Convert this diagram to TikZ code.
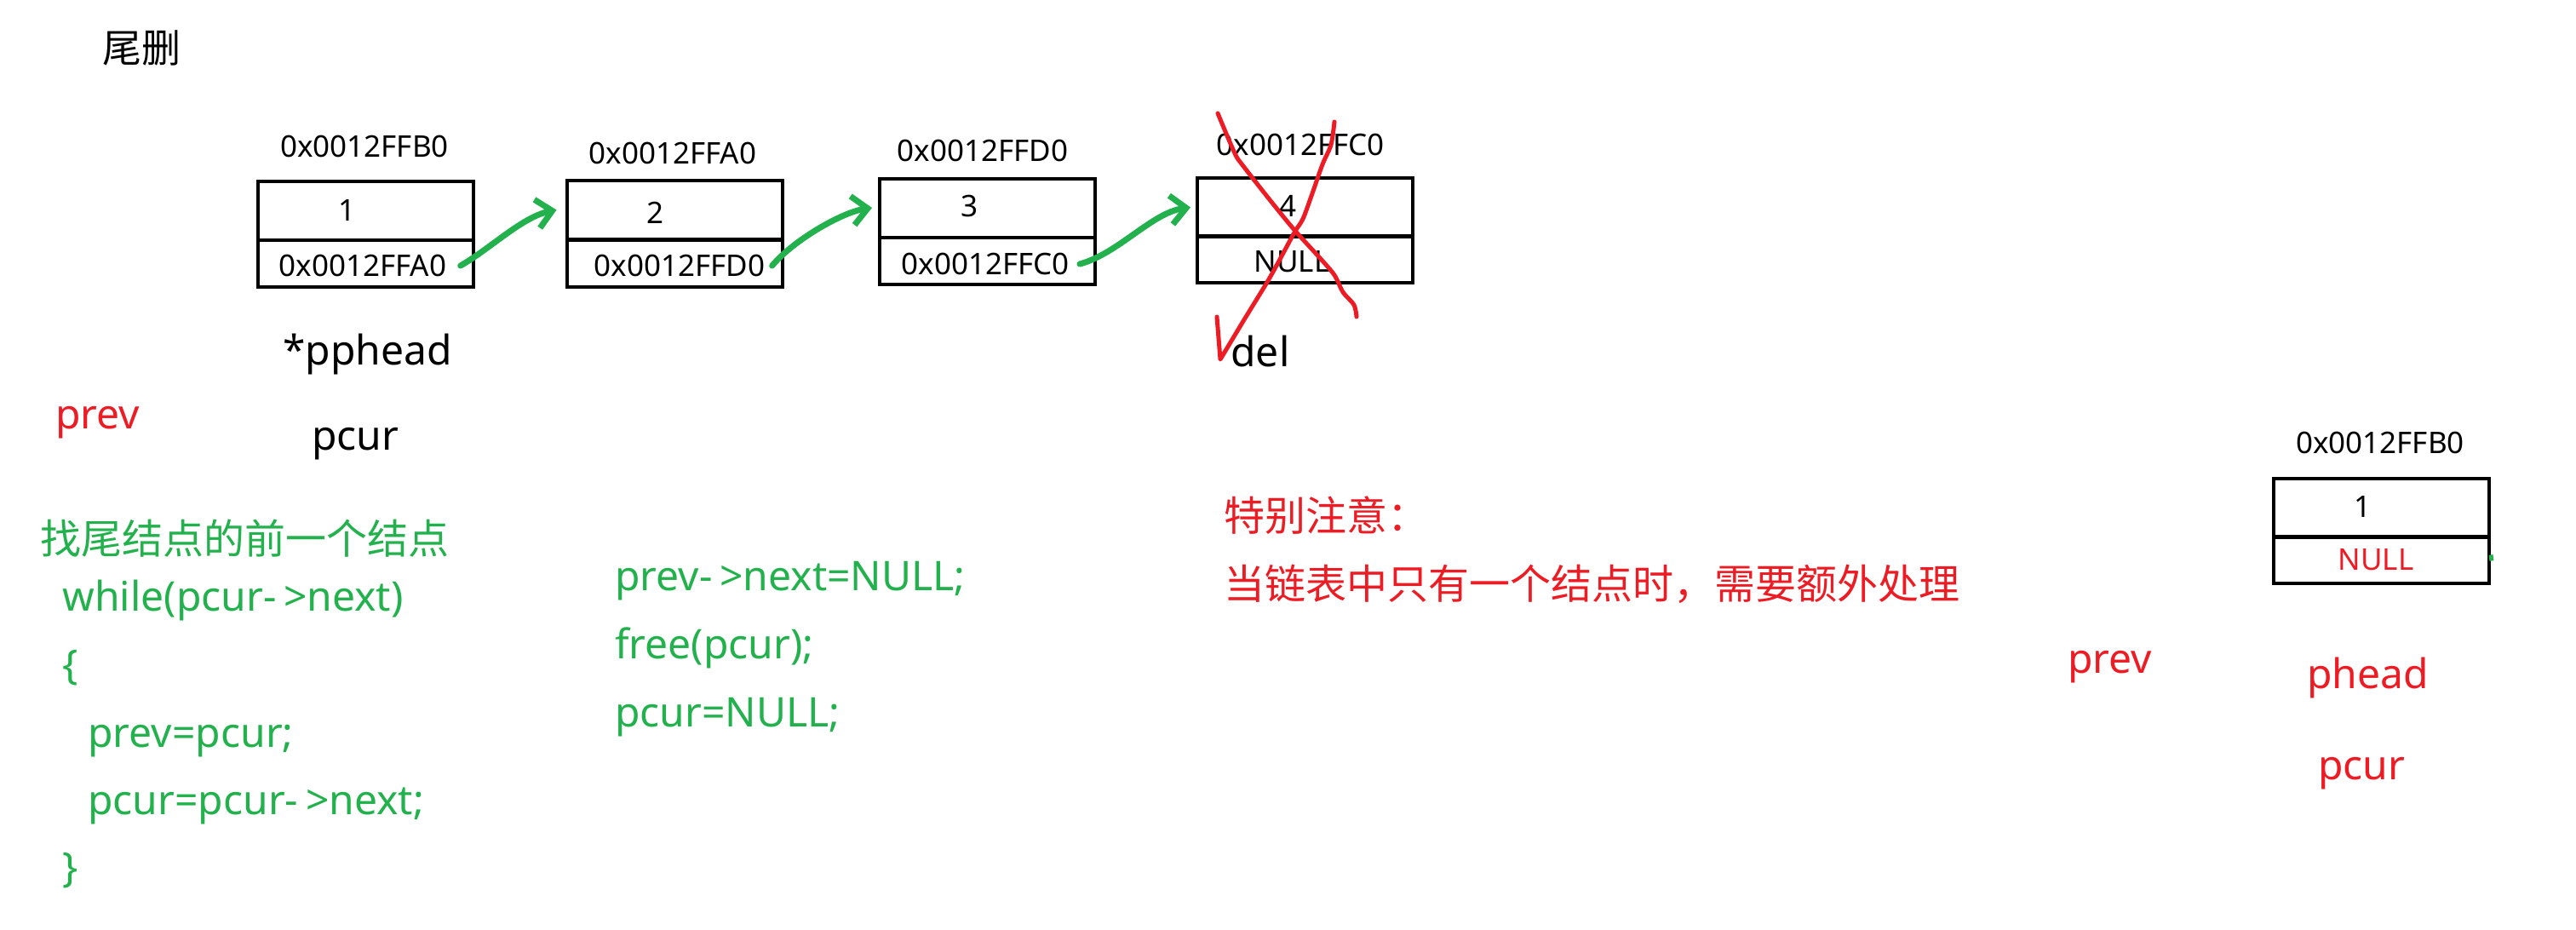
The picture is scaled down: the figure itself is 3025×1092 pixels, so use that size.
\documentclass[tikz,border=0pt]{standalone}
\usepackage{fontspec}
\setmainfont{Noto Sans}
\newfontfamily\cjk{Noto Sans CJK SC}
\usetikzlibrary{arrows.meta}
\definecolor{pg}{HTML}{22B14C}
\definecolor{pr}{HTML}{ED1C24}
\newcommand\arw{-\kern0.18em>}
\begin{document}
\begin{tikzpicture}[x=0.5pt,y=-0.5pt,
  celltop/.style={draw=black, line width=2pt, minimum width=126.5pt, minimum height=34.5pt, inner sep=0pt},
  cellbot/.style={draw=black, line width=2pt, minimum width=126.5pt, minimum height=27.5pt, inner sep=0pt},
  small/.style={font=\fontsize{17.5pt}{20pt}\selectfont, inner sep=0pt},
  txt/.style={inner sep=0pt, anchor=base west, font=\fontsize{24pt}{28pt}\selectfont},
  cjktxt/.style={inner sep=0pt, anchor=base west, font=\cjk\fontsize{24pt}{28pt}\selectfont},
  link/.style={draw=pg, line width=3.5pt, line cap=round, line join=round, -{Straight Barb[length=9pt,width=17pt]}},
  cross/.style={draw=pr, line width=2.5pt, line cap=round, line join=round}]
\useasboundingbox (0,0) rectangle (3025,1092);

% title
\node[cjktxt, font=\cjk\fontsize{23pt}{28pt}\selectfont] (title) at (120,73) {尾删};

% boxes
\node[celltop] (b1t) at (429,247.5) {};
\node[cellbot] (b1b) at (429,309.5) {};
\node[celltop] (b2t) at (792,246.5) {};
\node[cellbot] (b2b) at (792,309) {};
\node[celltop] (b3t) at (1159.5,244) {};
\node[cellbot] (b3b) at (1159.5,306) {};
\node[celltop] (b4t) at (1532.5,243.5) {};
\node[cellbot] (b4b) at (1532.5,304.5) {};
\node[celltop] (b5t) at (2796.5,596.5) {};
\node[cellbot] (b5b) at (2796.5,657.5) {};

% address labels
\node[small] (l1) at (428,172) {0x0012FFB0};
\node[small] (l2) at (790,180) {0x0012FFA0};
\node[small] (l3) at (1154,177) {0x0012FFD0};
\node[small] (l4) at (1527,170) {0x0012FFC0};
\node[small] (l5) at (2795,520) {0x0012FFB0};

% cell contents
\node[small] (d1) at (408,247) {1};
\node[small] (a1) at (426,312) {0x0012FFA0};
\node[small] (d2) at (770,250) {2};
\node[small] (a2) at (798,312) {0x0012FFD0};
\node[small] (d3) at (1138,242) {3};
\node[small] (a3) at (1157,310) {0x0012FFC0};
\node[small] (d4) at (1512,242) {4};
\node[small] (a4) at (1517,307) {NULL};
\node[small] (d5) at (2774,595) {1};
\node[small, text=pr] (a5) at (2790,657) {NULL};

% links
\draw[link] ([xshift=8pt]a1.east) .. controls +(35,-20) and +(-40,8) .. ([xshift=-5pt]b2t.west);
\draw[link] ([xshift=4pt]a2.east) .. controls +(25,-30) and +(-35,5) .. ([xshift=-3.5pt]b3t.west);
\draw[link] ([xshift=6pt]a3.east) .. controls +(45,-12) and +(-45,6) .. ([xshift=-3pt]b4t.west);
\draw[draw=pg, line width=2.5pt] ([yshift=3pt]b5b.east) -- ++(1,7);

% red cross over node 4
\draw[cross] plot[smooth] coordinates {(1430,133) (1450,180) (1460,195) (1493,237) (1520,270) (1550,303) (1567,323) (1577,343) (1590,358) (1593,372)};
\draw[cross] plot[smooth] coordinates {(1567,143) (1563,170) (1553,193) (1540,230) (1530,257) (1520,273) (1500,310) (1487,333) (1460,377) (1433,422)} -- (1429,372);

% pointer names
\node[txt] (pph) at (332,428) {*pphead};
\node[txt] (del) at (1445,430) {del};
\node[txt, text=pr] (prevL) at (65,503) {prev};
\node[txt] (pcurL) at (366,528) {pcur};

% left code block
\node[cjktxt, text=pg] (c0) at (47,650) {找尾结点的前一个结点};
\node[txt, text=pg] (c1) at (73,717) {while(pcur\arw next)};
\node[txt, text=pg] (c2) at (73,797) {\{};
\node[txt, text=pg] (c3) at (103,877) {prev=pcur;};
\node[txt, text=pg] (c4) at (103,956) {pcur=pcur\arw next;};
\node[txt, text=pg] (c5) at (73,1035) {\}};

% middle code block
\node[txt, text=pg] (m1) at (722,693) {prev\arw next=NULL;};
\node[txt, text=pg] (m2) at (722,773) {free(pcur);};
\node[txt, text=pg] (m3) at (722,853) {pcur=NULL;};

% red note
\node[cjktxt, text=pr] (n1) at (1437,623) {特别注意：};
\node[cjktxt, text=pr] (n2) at (1437,703) {当链表中只有一个结点时，需要额外处理};

% right side names
\node[txt, text=pr] (prevR) at (2428,790) {prev};
\node[txt, text=pr] (pheadR) at (2709,808) {phead};
\node[txt, text=pr] (pcurR) at (2722,915) {pcur};
\end{tikzpicture}
\end{document}
